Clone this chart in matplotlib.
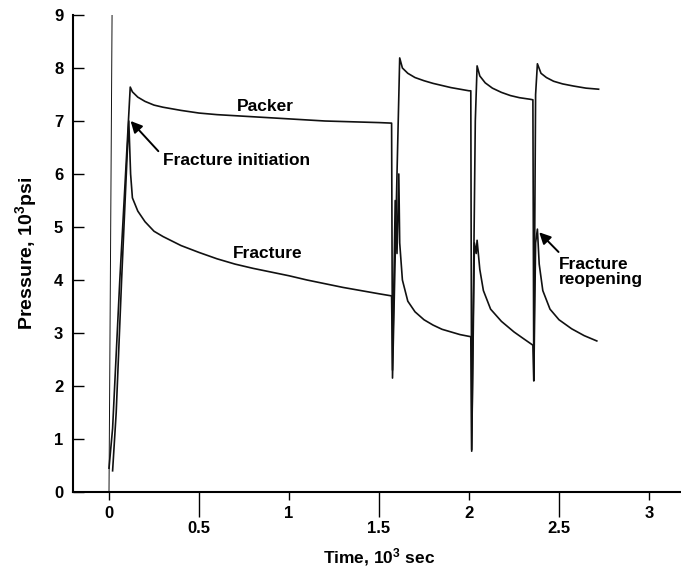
import matplotlib
matplotlib.use("Agg")
import matplotlib.pyplot as plt
from matplotlib.ticker import FixedLocator, FixedFormatter

plt.rcParams['font.family'] = ['Liberation Sans', 'DejaVu Sans']
plt.rcParams['font.weight'] = 'bold'
plt.rcParams['mathtext.fontset'] = 'custom'
plt.rcParams['mathtext.rm'] = 'Liberation Sans:bold'
plt.rcParams['mathtext.default'] = 'rm'

# thin pump-in trace at t = 0
start_t = [0.0, 0.017]
start_p = [0.0, 9.0]

# packer pressure, 10^3 psi
packer_t = [0.0, 0.02, 0.06, 0.10, 0.118, 0.13, 0.16, 0.2, 0.25, 0.3, 0.4, 0.5, 0.6, 0.7,
            0.8, 0.9, 1.0, 1.1, 1.2, 1.3, 1.4, 1.5, 1.57,
            1.575, 1.60, 1.615, 1.63, 1.66, 1.7, 1.75, 1.8, 1.85, 1.9, 1.95, 2.0, 2.01,
            2.015, 2.035, 2.045, 2.06, 2.09, 2.13, 2.18, 2.23, 2.28, 2.34, 2.355,
            2.36, 2.37, 2.38, 2.40, 2.43, 2.47, 2.52, 2.58, 2.65, 2.72]
packer_p = [0.45, 1.2, 4.0, 6.5, 7.64, 7.55, 7.45, 7.37, 7.3, 7.26, 7.2, 7.15, 7.12, 7.1,
            7.08, 7.06, 7.04, 7.02, 7.0, 6.99, 6.98, 6.97, 6.96,
            2.15, 6.0, 8.19, 8.0, 7.9, 7.82, 7.76, 7.71, 7.67, 7.63, 7.6, 7.57, 7.57,
            0.77, 7.0, 8.04, 7.85, 7.72, 7.62, 7.54, 7.48, 7.44, 7.41, 7.40,
            2.1, 7.5, 8.08, 7.9, 7.82, 7.75, 7.7, 7.66, 7.62, 7.6]

# fracture pressure, 10^3 psi
frac_t = [0.02, 0.04, 0.07, 0.10, 0.11, 0.12, 0.13, 0.16, 0.2, 0.25, 0.3, 0.4, 0.5, 0.6,
          0.7, 0.8, 0.9, 1.0, 1.1, 1.2, 1.3, 1.4, 1.5, 1.57,
          1.575, 1.59, 1.60, 1.61, 1.615, 1.63, 1.66, 1.7, 1.75, 1.8, 1.85, 1.9, 1.95, 2.01,
          2.015, 2.03, 2.04, 2.045, 2.06, 2.08, 2.12, 2.18, 2.25, 2.3, 2.355,
          2.36, 2.37, 2.38, 2.39, 2.41, 2.45, 2.5, 2.57, 2.64, 2.71]
frac_p = [0.4, 1.5, 4.0, 6.3, 7.0, 6.0, 5.55, 5.3, 5.1, 4.92, 4.82, 4.65, 4.52, 4.4,
          4.3, 4.22, 4.15, 4.08, 4.0, 3.93, 3.86, 3.8, 3.74, 3.7,
          2.3, 5.5, 4.5, 6.0, 4.7, 4.0, 3.6, 3.4, 3.25, 3.15, 3.07, 3.02, 2.97, 2.93,
          0.8, 4.7, 4.5, 4.75, 4.2, 3.8, 3.45, 3.22, 3.02, 2.9, 2.77,
          2.1, 4.7, 4.96, 4.3, 3.8, 3.45, 3.25, 3.08, 2.95, 2.85]

fig = plt.figure(figsize=(6.81, 5.72), dpi=100)
ax = fig.add_axes([73 / 681, 1 - 492 / 572, 612 / 681, 477 / 572])

ax.plot(start_t, start_p, color='#111111', lw=0.7)
ax.plot(packer_t, packer_p, color='#111111', lw=1.2)
ax.plot(frac_t, frac_p, color='#111111', lw=1.2)

ax.set_xlim(-0.2, 3.2)
ax.set_ylim(0, 9)
for s in ['top', 'right']:
    ax.spines[s].set_visible(False)
for s in ['left', 'bottom']:
    ax.spines[s].set_linewidth(1.5)

ax.set_yticks(range(10))
ax.tick_params(axis='y', direction='in', length=8, width=1, pad=7, labelsize=12)
ax.xaxis.set_major_locator(FixedLocator([0, 1, 2, 3]))
ax.xaxis.set_major_formatter(FixedFormatter(['0', '1', '2', '3']))
ax.xaxis.set_minor_locator(FixedLocator([0.5, 1.5, 2.5]))
ax.xaxis.set_minor_formatter(FixedFormatter(['0.5', '1.5', '2.5']))
ax.tick_params(axis='x', which='major', direction='out', length=6, width=1, pad=4, labelsize=12)
ax.tick_params(axis='x', which='minor', direction='out', length=18, width=1, pad=3, labelsize=12)

ax.set_xlabel('Time, 10$^3$ sec', fontsize=12.5, fontweight='bold', labelpad=7)
ax.set_ylabel('Pressure, 10$^3$psi', fontsize=14, fontweight='bold', labelpad=11)

ax.text(0.867, 7.28, 'Packer', fontsize=12.5, ha='center', va='center')
ax.text(0.883, 4.5, 'Fracture', fontsize=12.5, ha='center', va='center')
ax.annotate('Fracture initiation', xy=(0.12, 7.0), xytext=(0.3, 6.25),
            fontsize=12.5, ha='left', va='center',
            arrowprops=dict(arrowstyle='-|>', color='black', lw=1.4,
                            mutation_scale=17, shrinkA=2, shrinkB=0,
                            relpos=(0.0, 0.8)))
ax.annotate('Fracture\nreopening', xy=(2.39, 4.9), xytext=(2.5, 4.15),
            fontsize=12.5, ha='left', va='center', linespacing=1.05,
            arrowprops=dict(arrowstyle='-|>', color='black', lw=1.4,
                            mutation_scale=17, shrinkA=2, shrinkB=0,
                            relpos=(0.05, 1.0)))

fig.savefig('out.png', dpi=100)
